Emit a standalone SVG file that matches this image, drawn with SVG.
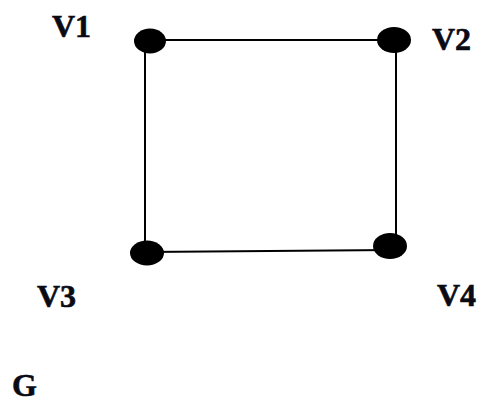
<svg xmlns="http://www.w3.org/2000/svg" width="484" height="403" viewBox="0 0 484 403">
<style>
.edge{stroke:#000;stroke-width:2;fill:none}
.dot{fill:#000}
.lbl{font-family:"Liberation Serif","Times New Roman",serif;font-weight:bold;font-size:32px;fill:#0a0a14;stroke:#0a0a14;stroke-width:0.6}
</style>
<rect width="484" height="403" fill="#fff"/>
<g id="connectors">
<line class="edge" x1="146" y1="40" x2="396" y2="40"/>
<line class="edge" x1="145" y1="40" x2="145" y2="252"/>
<line class="edge" x1="396" y1="40" x2="396" y2="246"/>
<line class="edge" x1="146" y1="252" x2="392" y2="250"/>
</g>
<g id="V1"><ellipse class="dot" cx="150" cy="41" rx="16" ry="12.5"/><text class="lbl" x="52" y="37">V1</text></g>
<g id="V2"><ellipse class="dot" cx="394" cy="40" rx="17" ry="13"/><text class="lbl" x="432" y="50">V2</text></g>
<g id="V3"><ellipse class="dot" cx="147" cy="253" rx="17" ry="12.5"/><text class="lbl" x="37" y="307">V3</text></g>
<g id="V4"><ellipse class="dot" cx="390" cy="246" rx="17" ry="13"/><text class="lbl" x="437" y="306">V4</text></g>
<g id="G"><text class="lbl" x="12" y="396">G</text></g>
</svg>
